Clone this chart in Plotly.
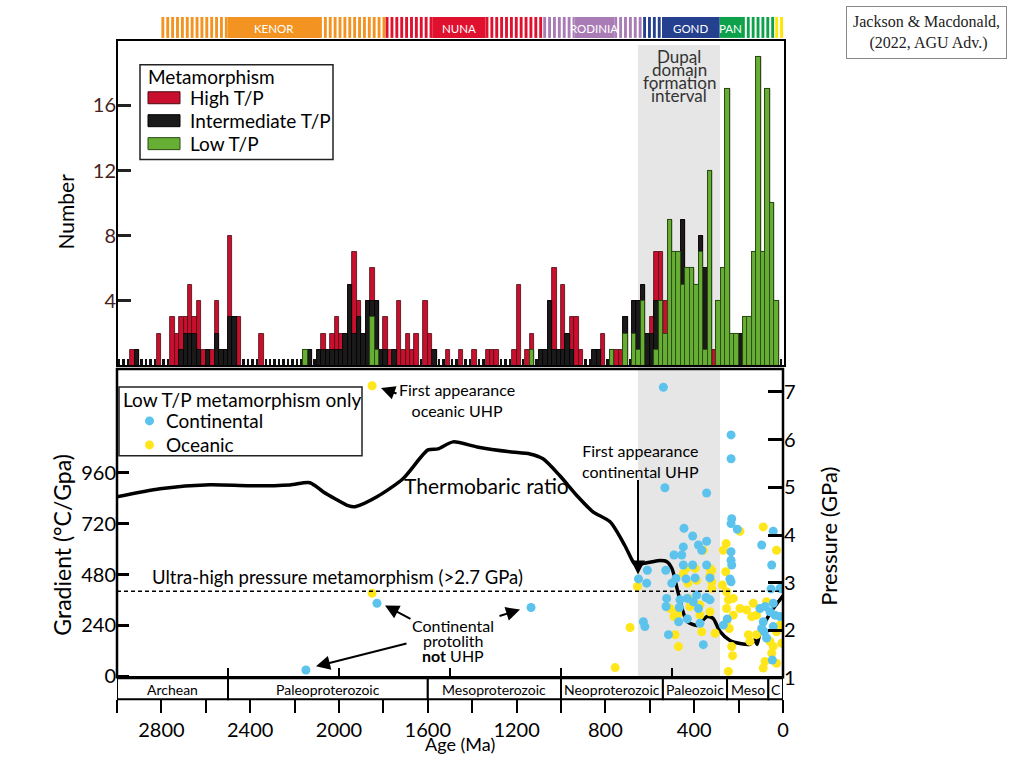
import plotly.graph_objects as go

# ---------------- data ----------------
n_bins = 150
bin_age = [2990 - 20 * i for i in range(n_bins)]   # bin centres (Ma), 20 Myr bins

high_tp = [0,0,0,1,0,0,0,0,0,2,
           0,0,3,2,2,1,3,1,3,1,
           0,1,2,0,0,5,0,3,0,0,
           0,0,2,0,0,0,0,0,0,0,
           0,0,0,0,0,0,1,0,1,2,
           1,0,0,5,1,0,0,2,0,0,
           2,1,0,4,1,2,1,2,0,4,
           2,0,0,0,1,0,0,1,0,0,
           1,0,0,1,1,1,0,0,0,1,
           5,0,1,1,0,0,0,0,5,0,
           4,0,2,3,1,0,0,0,0,2,
           0,0,1,1,0,0,0,0,0,0,
           1,3,3,2,0,0,0,0,0,0,
           0,0,0,0,1,0,0,0,0,0,
           0,0,0,0,0,0,0,0,0,0]
inter_tp = [0,0,0,0,1,0,0,0,0,0,
            0,0,0,0,1,2,2,2,1,0,
            1,0,2,1,1,3,3,0,0,0,
            0,0,0,0,0,0,0,0,0,0,
            0,0,0,1,0,1,1,1,1,1,
            1,2,5,2,3,2,4,1,3,1,
            1,0,1,0,0,0,0,0,0,0,
            0,1,0,0,0,0,0,0,0,0,
            0,0,0,0,0,0,0,0,0,0,
            0,0,0,0,0,1,1,4,1,1,
            1,2,1,0,0,0,0,1,1,0,
            0,0,0,0,1,0,2,3,1,2,
            2,3,0,0,0,0,0,4,0,0,
            0,1,5,0,0,0,0,0,0,0,
            2,0,0,0,0,0,0,0,0,0]
low_tp = [0,0,0,0,0,0,0,0,0,0,
          0,0,0,0,0,0,0,0,0,0,
          0,0,0,0,0,0,0,0,0,0,
          0,0,0,0,0,0,0,0,0,0,
          0,0,1,0,0,0,0,0,0,0,
          0,0,0,0,0,0,0,3,1,0,
          0,0,0,0,0,0,0,0,0,0,
          0,0,0,0,0,0,0,0,0,0,
          0,0,0,0,0,0,0,0,0,0,
          0,0,0,1,0,0,0,0,0,0,
          0,0,0,0,0,0,0,0,0,0,
          0,1,0,0,2,0,2,1,4,0,
          0,1,4,2,9,7,7,5,6,6,
          5,7,1,12,0,4,6,17,2,2,
          0,3,3,7,19,7,17,10,4,0]

# thermobaric ratio (degC/GPa)
tb_age = [3000, 2806, 2581, 2401, 2221, 2131, 2072, 2018, 1959, 1928, 1829, 1712,
          1599, 1554, 1486, 1378, 1230, 1140, 1081, 1005, 928, 856, 779, 712, 676,
          658, 631, 590, 554, 523, 500, 477, 455, 432, 387, 342, 315, 284, 239, 194,
          149, 126, 117, 104, 59, 0]
tb_grad = [847, 885, 904, 899, 903, 913, 871, 838, 805, 800, 847, 932,
           1068, 1073, 1106, 1082, 1059, 1049, 1026, 946, 852, 776, 729, 616, 541,
           522, 532, 540, 546, 541, 508, 414, 320, 259, 240, 282, 273, 212, 169, 155,
           151, 172, 150, 202, 296, 380]

# low T/P metamorphism, pressure (GPa)
cont_age = [539, 532, 344, 234, 234, 446, 407, 381, 344, 366, 449, 456, 491, 407, 449, 344,
            611, 528, 651, 614, 482, 501, 437, 396, 329, 231, 206, 234, 234, 234, 231, 239,
            234, 44, 96, 51, 54, 14, 524, 464, 431, 389, 404, 381, 347, 329, 527, 467, 470,
            374, 431, 269, 251, 629, 622, 516, 359, 104, 81, 59, 44, 36, 89, 84, 74, 96, 44,
            14, 48, 6, 1829, 1135, 2149]
cont_p = [7.10, 4.99, 4.88, 6.10, 5.60, 4.14, 3.98, 3.79, 3.87, 3.68, 3.75, 3.58, 3.58, 3.37,
          3.37, 3.37, 3.26, 3.26, 3.08, 2.99, 3.09, 2.99, 3.08, 3.10, 3.10, 4.34, 4.12, 4.24,
          3.65, 3.47, 3.37, 3.08, 3.02, 4.08, 3.79, 3.37, 2.87, 2.88, 2.67, 2.64, 2.67, 2.74,
          2.60, 2.46, 2.69, 2.64, 2.50, 2.48, 2.18, 2.15, 2.24, 2.11, 2.24, 2.18, 2.08, 1.91,
          1.70, 2.46, 2.50, 2.39, 2.57, 2.32, 2.18, 1.97, 1.84, 2.04, 2.08, 2.29, 1.38, 2.88,
          2.57, 2.48, 1.17]
ocean_age = [656, 474, 491, 471, 366, 306, 329, 329, 396, 389, 429, 321, 321, 426, 419, 374,
             329, 374, 256, 269, 258, 273, 254, 246, 224, 254, 224, 254, 242, 231, 227, 246,
             194, 164, 134, 119, 141, 89, 194, 74, 29, 156, 149, 119, 59, 44, 51, 81, 89, 29,
             6, 29, 14, 689, 756, 486, 476, 359, 321, 509, 437, 449, 1851, 1851]
ocean_p = [2.92, 2.41, 2.29, 1.66, 1.97, 1.94, 3.30, 3.16, 3.30, 3.05, 2.99, 3.02, 2.88, 2.67,
           2.50, 2.32, 2.39, 2.53, 3.82, 3.68, 3.23, 2.95, 2.81, 2.64, 2.67, 2.46, 2.32, 2.18,
           2.04, 1.66, 1.47, 1.14, 2.46, 2.43, 2.57, 2.32, 2.29, 4.17, 4.08, 2.60, 3.68, 1.91,
           1.77, 1.91, 1.77, 1.66, 1.52, 1.35, 1.21, 1.31, 1.73, 1.97, 2.11, 2.06, 1.22, 1.91,
           2.32, 3.68, 3.26, 2.46, 3.30, 3.19, 7.13, 2.78]

era_names = ["Archean", "Paleoproterozoic", "Mesoproterozoic", "Neoproterozoic",
             "Paleozoic", "Meso", "C"]
era_start = [3000, 2500, 1600, 1000, 541, 252, 66]
era_end = [2500, 1600, 1000, 541, 252, 66, 0]

sc_names = ["", "KENOR", "", "", "NUNA", "", "", "RODINIA", "", "", "GOND", "PAN", "", ""]
sc_start = [2800, 2500, 2090, 1790, 1580, 1340, 1080, 940, 760, 630, 545, 285, 185, 35]
sc_end = [2500, 2090, 1790, 1580, 1340, 1080, 940, 760, 630, 545, 285, 185, 35, 0]
sc_solid = [False, True, False, False, True, False, False, True, False, False, True, True,
            False, False]
sc_color = ["#F39322", "#F39322", "#F39322", "#E0102F", "#E0102F", "#E0102F", "#A97CB5",
            "#A97CB5", "#A97CB5", "#24408E", "#24408E", "#0CA14A", "#0CA14A", "#FFE800"]

dupal_old, dupal_young = 653, 284
uhp_p = 2.82

# ---------------- helpers ----------------
FONT = "Lato"
H = 768
K = 1.012
L_PX, R_PX, W_PX = 117, 783, 666


def PX(px):
    return (px - L_PX) / W_PX


def PY(py):
    return 1 - (py * K) / H


def nz(v):
    return [x if x > 0 else None for x in v]


total = [h + i + l for h, i, l in zip(high_tp, inter_tp, low_tp)]
mid = [i + l for i, l in zip(inter_tp, low_tp)]

fig = go.Figure()

# baseline stubs
fig.add_trace(go.Bar(x=bin_age, y=[0.42] * n_bins, width=11, marker_color="#111111",
                     marker_line_width=0, showlegend=False, hoverinfo="skip",
                     xaxis="x", yaxis="y"))
fig.add_trace(go.Bar(x=bin_age, y=nz(total), width=20, name="High T/P",
                     marker=dict(color="#C8102E", line=dict(color="#4a0a12", width=0.8)),
                     showlegend=False, xaxis="x", yaxis="y"))
fig.add_trace(go.Bar(x=bin_age, y=nz(mid), width=20, name="Intermediate T/P",
                     marker=dict(color="#1a1a1a", line=dict(color="#000000", width=0.8)),
                     showlegend=False, xaxis="x", yaxis="y"))
fig.add_trace(go.Bar(x=bin_age, y=nz(low_tp), width=20, name="Low T/P",
                     marker=dict(color="#66AF34", line=dict(color="#2a4a12", width=0.9)),
                     showlegend=False, xaxis="x", yaxis="y"))

fig.add_trace(go.Scatter(x=tb_age, y=tb_grad, mode="lines", name="Thermobaric ratio",
                         line=dict(color="black", width=3.5, shape="spline", smoothing=0.7),
                         showlegend=False, xaxis="x3", yaxis="y2"))
fig.add_trace(go.Scatter(x=ocean_age, y=ocean_p, mode="markers", name="Oceanic",
                         marker=dict(color="#FFE61A", size=9), showlegend=False,
                         xaxis="x3", yaxis="y3"))
fig.add_trace(go.Scatter(x=cont_age, y=cont_p, mode="markers", name="Continental",
                         marker=dict(color="#5BC3EC", size=9), showlegend=False,
                         xaxis="x3", yaxis="y3"))

shapes = []
# Dupal interval shading
shapes.append(dict(type="rect", xref="x", yref="paper", x0=dupal_old, x1=dupal_young,
                   y0=PY(679), y1=PY(45), fillcolor="#e6e6e6", line=dict(width=0),
                   layer="below"))
# supercontinent bar
for s, e, solid, c in zip(sc_start, sc_end, sc_solid, sc_color):
    if solid:
        shapes.append(dict(type="rect", xref="x", yref="paper", x0=s, x1=e, y0=PY(38),
                           y1=PY(17), fillcolor=c, line=dict(width=0)))
    else:
        a = s
        while a - 3 > e:
            shapes.append(dict(type="rect", xref="x", yref="paper", x0=a, x1=max(a - 13, e),
                               y0=PY(38), y1=PY(17), fillcolor=c, line=dict(width=0)))
            a -= 22
# panel frames
shapes.append(dict(type="rect", xref="paper", yref="paper", x0=PX(117), x1=PX(785),
                   y0=PY(367), y1=PY(40), line=dict(color="black", width=2)))
shapes.append(dict(type="rect", xref="paper", yref="paper", x0=PX(117), x1=PX(783),
                   y0=PY(679), y1=PY(370), line=dict(color="black", width=2.5)))
# UHP dashed line
shapes.append(dict(type="line", xref="paper", yref="y3", x0=0, x1=1, y0=uhp_p, y1=uhp_p,
                   line=dict(color="black", width=1.5, dash="4px,3px")))
# era boxes
for s, e in zip(era_start, era_end):
    shapes.append(dict(type="rect", xref="x", yref="paper", x0=s, x1=e, y0=PY(701),
                       y1=PY(680), fillcolor="white", line=dict(color="black", width=2)))

# top legend
shapes.append(dict(type="rect", xref="paper", yref="paper", x0=PX(140), x1=PX(333),
                   y0=PY(160), y1=PY(65), fillcolor="white", line=dict(color="#222", width=1.5)))
for yy, c, lc in [(98, "#C8102E", "#4a0a12"), (121, "#1a1a1a", "#000"), (144, "#66AF34", "#2a4a12")]:
    shapes.append(dict(type="rect", xref="paper", yref="paper", x0=PX(148), x1=PX(180),
                       y0=PY(yy + 6), y1=PY(yy - 6), fillcolor=c, line=dict(color=lc, width=1)))
# bottom legend
shapes.append(dict(type="rect", xref="paper", yref="paper", x0=PX(119), x1=PX(362),
                   y0=PY(457), y1=PY(388), fillcolor="white", line=dict(color="#222", width=1.5)))
for yy, c in [(422, "#5BC3EC"), (446, "#FFE61A")]:
    shapes.append(dict(type="circle", xref="paper", yref="paper", x0=PX(145), x1=PX(154),
                       y0=PY(yy + 4.5), y1=PY(yy - 4.5), fillcolor=c, line=dict(width=0)))

annotations = []


def ann(text, px, py, size, xanchor="center", color="black", family=FONT, **kw):
    d = dict(text=text, x=PX(px), y=PY(py), xref="paper", yref="paper", showarrow=False,
             font=dict(size=size, family=family, color=color), xanchor=xanchor,
             yanchor="middle")
    d.update(kw)
    annotations.append(d)


def arrow(hx, hy, tx, ty):
    annotations.append(dict(text="", x=PX(hx), y=PY(hy), xref="paper", yref="paper",
                            ax=tx - hx, ay=(ty - hy) * K, axref="pixel", ayref="pixel",
                            showarrow=True, arrowhead=2, arrowsize=1.4, arrowwidth=2,
                            arrowcolor="black"))


# supercontinent labels
for n, s, e in zip(sc_names, sc_start, sc_end):
    if n:
        annotations.append(dict(text=n, x=(s + e) / 2, y=PY(29), xref="x", yref="paper",
                                showarrow=False, font=dict(size=11.5, family=FONT, color="white"),
                                xanchor="center", yanchor="middle"))
# era labels
for n, s, e in zip(era_names, era_start, era_end):
    annotations.append(dict(text=n, x=(s + e) / 2, y=PY(691), xref="x", yref="paper",
                            showarrow=False, font=dict(size=14, family=FONT, color="black"),
                            xanchor="center", yanchor="middle"))

# Dupal text
for t, yy in [("Dupal", 57), ("domain", 70), ("formation", 83), ("interval", 96)]:
    ann(t, 679, yy, 17, color="#333333")

# legends text
ann("Metamorphism", 146, 77, 19, xanchor="left")
ann("High T/P", 188, 98, 19, xanchor="left")
ann("Intermediate T/P", 188, 121, 19, xanchor="left")
ann("Low T/P", 188, 144, 19, xanchor="left")
ann("Low T/P metamorphism only", 121, 400, 19, xanchor="left")
ann("Continental", 164, 422, 19, xanchor="left")
ann("Oceanic", 164, 446, 19, xanchor="left")

# panel texts
ann("Thermobaric ratio", 486, 487, 21)
ann("Ultra-high pressure metamorphism (>2.7 GPa)", 150, 578, 18.5, xanchor="left")
ann("First appearance<br>oceanic UHP", 457, 401, 16)
arrow(381, 389, 398, 395)
ann("First appearance<br>continental UHP", 640, 462, 16)
arrow(638, 576, 638, 481)
ann("Continental", 453, 627, 16)
ann("protolith", 453, 642, 16)
ann("<b>not</b> UHP", 453, 657, 16)
arrow(385, 607, 412, 621)
arrow(520, 611, 498, 618)
arrow(316, 668, 408, 645)

# axis titles
ann("Number", 65, 212, 21, textangle=-90)
ann("Gradient (°C/Gpa)", 62, 546, 23, textangle=-90)
ann("Pressure (GPa)", 829, 538, 22, textangle=-90)
ann("Age (Ma)", 460, 746, 18)

# source box
annotations.append(dict(text="Jackson &amp; Macdonald,<br> (2022, AGU Adv.)", x=PX(926),
                        y=PY(33), xref="paper", yref="paper", showarrow=False,
                        font=dict(size=16, family="Liberation Serif", color="#222"),
                        bordercolor="#888888", borderwidth=1, borderpad=6, bgcolor="white",
                        xanchor="center", yanchor="middle"))

xticks = list(range(0, 3001, 200))
xtext = [str(v) if (v % 400 == 0 and v < 3000) else "" for v in xticks]

fig.update_layout(
    width=1024, height=H,
    margin=dict(l=117, r=241, t=0, b=0),
    paper_bgcolor="white", plot_bgcolor="rgba(0,0,0,0)",
    barmode="overlay", bargap=0,
    font=dict(family=FONT, color="black"),
    showlegend=False,
    xaxis=dict(domain=[0, 1], range=[3000, 0], anchor="free", position=PY(701),
               tickvals=xticks, ticktext=xtext, ticks="outside", ticklen=13, tickwidth=2,
               tickcolor="black", showgrid=False, zeroline=False, showline=False,
               tickfont=dict(size=20, family=FONT)),
    yaxis=dict(domain=[PY(367), PY(40)], range=[0, 20.02], anchor="x", position=0,
               tickvals=[4, 8, 12, 16], ticks="inside", ticklen=14, tickwidth=2.5,
               tickcolor="#222", showgrid=False, zeroline=False, showline=False,
               tickfont=dict(size=20, family=FONT, color="#4a1f22")),
    xaxis3=dict(overlaying="x", anchor="y2", range=[3000, 0],
                tickvals=[2500, 2000, 1500, 1000, 500], ticks="inside", ticklen=10,
                tickwidth=2, tickcolor="black", showticklabels=False, showgrid=False,
                zeroline=False, showline=False),
    yaxis2=dict(domain=[PY(680), PY(370)], range=[-9.4, 1449.4], anchor="x3",
                tickvals=[0, 240, 480, 720, 960], ticks="inside", ticklen=12, tickwidth=2.5,
                tickcolor="black", showgrid=False, zeroline=False, showline=False,
                tickfont=dict(size=20, family=FONT)),
    yaxis3=dict(overlaying="y2", side="right", anchor="x3", range=[0.995, 7.48],
                tickvals=[1, 2, 3, 4, 5, 6, 7], ticks="inside", ticklen=15, tickwidth=2.5,
                tickcolor="black", showgrid=False, zeroline=False, showline=False,
                tickfont=dict(size=20, family=FONT)),
    shapes=shapes,
    annotations=annotations,
)

fig.write_html("out.html", config={"displayModeBar": False},
               post_script="document.body.style.margin='0';"
                           "document.documentElement.style.overflow='hidden';"
                           "document.body.style.overflow='hidden';")
